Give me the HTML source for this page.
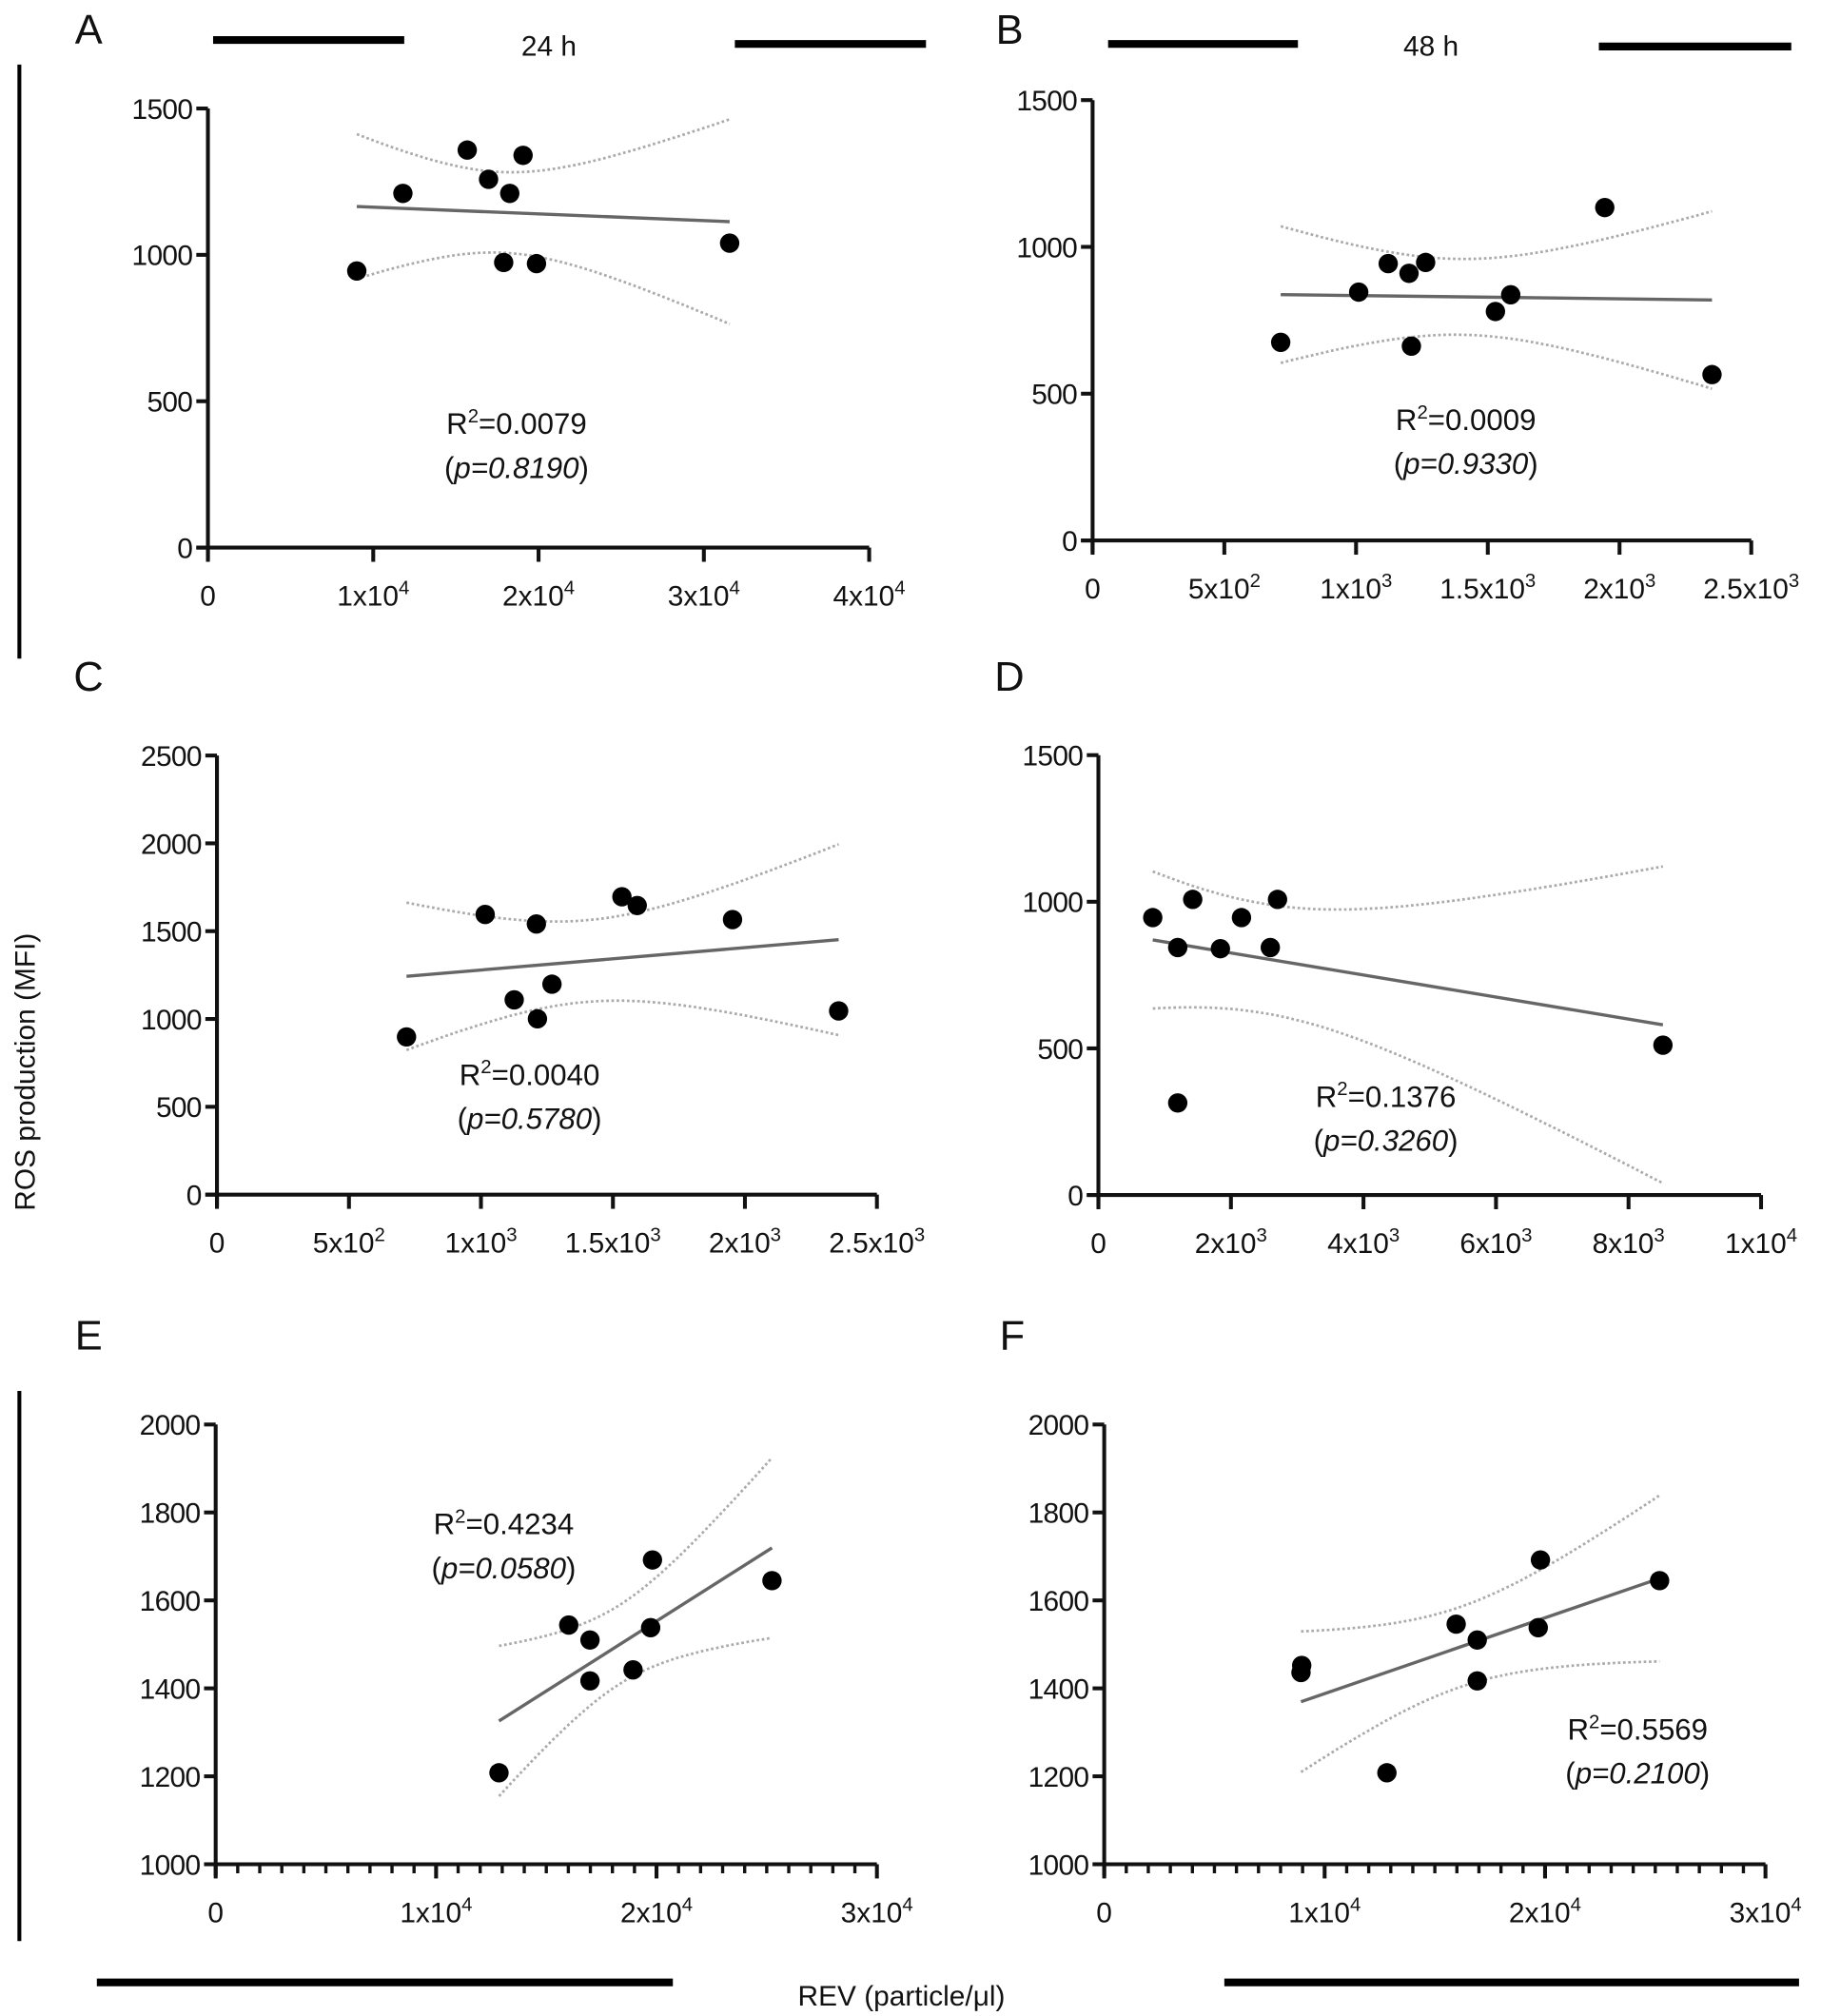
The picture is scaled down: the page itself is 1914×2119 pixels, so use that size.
<!DOCTYPE html>
<html><head><meta charset="utf-8"><style>
html,body{margin:0;padding:0;background:#fff}
svg{display:block}
text{font-family:"Liberation Sans",Arial,sans-serif;fill:#111}
</style></head><body>
<svg id="fig" width="1914" height="2119" viewBox="0 0 1410 1561" preserveAspectRatio="none" xmlns="http://www.w3.org/2000/svg">
<g>
<text x="58" y="34" font-size="32">A</text>
<text x="771" y="34" font-size="32">B</text>
<text x="57" y="535" font-size="32">C</text>
<text x="770" y="535" font-size="32">D</text>
<text x="58" y="1045" font-size="32">E</text>
<text x="774" y="1045" font-size="32">F</text>
<line x1="165" y1="31" x2="313" y2="31" stroke="#000" stroke-width="6"/>
<line x1="569" y1="34" x2="717" y2="34" stroke="#000" stroke-width="6"/>
<text x="425" y="43" font-size="22" text-anchor="middle">24 h</text>
<line x1="858" y1="34" x2="1005" y2="34" stroke="#000" stroke-width="6"/>
<line x1="1238" y1="36" x2="1387" y2="36" stroke="#000" stroke-width="6"/>
<text x="1108" y="43" font-size="22" text-anchor="middle">48 h</text>
<line x1="15" y1="50" x2="15" y2="510" stroke="#000" stroke-width="3"/>
<line x1="15" y1="1077" x2="15" y2="1503" stroke="#000" stroke-width="3"/>
<text transform="translate(27,830) rotate(-90)" font-size="22" text-anchor="middle">ROS production (MFI)</text>
<line x1="75" y1="1535" x2="521" y2="1535" stroke="#000" stroke-width="6"/>
<line x1="948" y1="1535" x2="1393" y2="1535" stroke="#000" stroke-width="6"/>
<text x="698" y="1553" font-size="22" text-anchor="middle">REV (particle/μl)</text>
</g>
</svg>
<script>
// Panel A data
const aX = [9004, 11794, 15686, 16976, 18258, 19063, 17891, 19875, 31559];
const aY = [945, 1210, 1358, 1258, 1210, 1340, 974, 970, 1040];
const aXTicks = [0, 10000, 20000, 30000, 40000];
const aXTickLabels = [["0",""],["1x10","4"],["2x10","4"],["3x10","4"],["4x10","4"]];
const aYTicks = [0, 500, 1000, 1500];
const aStats = ["0.0079", "0.8190"];
// Panel B data
const bX = [714, 1010, 1122, 1201, 1264, 1210, 1529, 1587, 1944, 2351];
const bY = [675, 846, 943, 910, 947, 662, 780, 837, 1134, 565];
const bXTicks = [0, 500, 1000, 1500, 2000, 2500];
const bXTickLabels = [["0",""],["5x10","2"],["1x10","3"],["1.5x10","3"],["2x10","3"],["2.5x10","3"]];
const bYTicks = [0, 500, 1000, 1500];
const bStats = ["0.0009", "0.9330"];
// Panel C data
const cX = [718, 1016, 1126, 1210, 1214, 1269, 1534, 1592, 1953, 2355];
const cY = [898, 1595, 1109, 1541, 1001, 1198, 1696, 1646, 1566, 1046];
const cXTicks = [0, 500, 1000, 1500, 2000, 2500];
const cXTickLabels = [["0",""],["5x10","2"],["1x10","3"],["1.5x10","3"],["2x10","3"],["2.5x10","3"]];
const cYTicks = [0, 500, 1000, 1500, 2000, 2500];
const cStats = ["0.0040", "0.5780"];
// Panel D data
const dX = [820, 1197, 1423, 1841, 2159, 2594, 2703, 1197, 8519];
const dY = [946, 844, 1008, 840, 946, 844, 1008, 314, 511];
const dXTicks = [0, 2000, 4000, 6000, 8000, 10000];
const dXTickLabels = [["0",""],["2x10","3"],["4x10","3"],["6x10","3"],["8x10","3"],["1x10","4"]];
const dYTicks = [0, 500, 1000, 1500];
const dStats = ["0.1376", "0.3260"];
// Panel E data
const eX = [12853, 16018, 16982, 16982, 18936, 19734, 19817, 25239];
const eY = [1208, 1544, 1510, 1417, 1442, 1538, 1692, 1645];
const eXTicks = [0, 10000, 20000, 30000];
const eXTickLabels = [["0",""],["1x10","4"],["2x10","4"],["3x10","4"]];
const eYTicks = [1000, 1200, 1400, 1600, 1800, 2000];
const eStats = ["0.4234", "0.0580"];
// Panel F data
const fX = [8927, 8960, 12825, 15968, 16924, 16924, 19690, 19791, 25197];
const fY = [1436, 1452, 1208, 1546, 1510, 1417, 1538, 1692, 1645];
const fXTicks = [0, 10000, 20000, 30000];
const fXTickLabels = [["0",""],["1x10","4"],["2x10","4"],["3x10","4"]];
const fYTicks = [1000, 1200, 1400, 1600, 1800, 2000];
const fStats = ["0.5569", "0.2100"];

const NS = "http://www.w3.org/2000/svg";
const svg = document.getElementById('fig');
function mk(tag, attrs, parent){const e=document.createElementNS(NS,tag);for(const k in attrs)e.setAttribute(k,attrs[k]);(parent||svg).appendChild(e);return e;}
const tTable={5:2.571,6:2.447,7:2.365,8:2.306,9:2.262,10:2.228};

function panel(id, g, xs, ys, xt, xtl, yt, stats, minor){
  const grp = mk('g',{});
  
  
  const xMin=xt[0], xMax=xt[xt.length-1], yMin=yt[0], yMax=yt[yt.length-1];
  const sx=v=>g.x0+(v-xMin)/(xMax-xMin)*(g.x1-g.x0);
  const sy=v=>g.y0-(v-yMin)/(yMax-yMin)*(g.y0-g.y1);
  const ya=mk('line',{x1:g.x0,y1:g.y1,x2:g.x0,y2:g.y0+9,stroke:'#111','stroke-width':3},grp);
  
  
  const xa=mk('line',{x1:g.x0-9,y1:g.y0,x2:g.x1,y2:g.y0,stroke:'#111','stroke-width':3},grp);
  
  
  yt.forEach(v=>{
    const y=sy(v);
    mk('line',{x1:g.x0-9,y1:y,x2:g.x0,y2:y,stroke:'#111','stroke-width':3},grp);
    const t=mk('text',{x:g.x0-12,y:y+8,'font-size':22,'text-anchor':'end','letter-spacing':'-0.5'},grp);
    t.textContent=v;
    
    
  });
  if(minor){
    for(let v=xMin; v<=xMax; v+=minor){
      const x=sx(v);
      mk('line',{x1:x,y1:g.y0,x2:x,y2:g.y0+7,stroke:'#111','stroke-width':2.5},grp);
    }
  }
  xt.forEach((v,i)=>{
    const x=sx(v);
    mk('line',{x1:x,y1:g.y0,x2:x,y2:g.y0+11,stroke:'#111','stroke-width':3},grp);
    const t=mk('text',{x:x,y:g.y0+45,'font-size':22,'text-anchor':'middle'},grp);
    
    
    const a=document.createElementNS(NS,'tspan');a.textContent=xtl[i][0];t.appendChild(a);
    if(xtl[i][1]){const b=document.createElementNS(NS,'tspan');b.setAttribute('dy','-9');b.setAttribute('font-size','15');b.textContent=xtl[i][1];t.appendChild(b);}
  });
  const n=xs.length, mx=xs.reduce((a,b)=>a+b)/n, my=ys.reduce((a,b)=>a+b)/n;
  let sxx=0,sxy=0;xs.forEach((x,i)=>{sxx+=(x-mx)**2;sxy+=(x-mx)*(ys[i]-my);});
  const b1=sxy/sxx,b0=my-b1*mx;
  let sse=0;xs.forEach((x,i)=>{sse+=(ys[i]-b0-b1*x)**2;});
  const s=Math.sqrt(sse/(n-2)), tv=tTable[n-2]||2.3;
  const lo=Math.min(...xs), hi=Math.max(...xs);
  let up='',dn='';
  for(let k=0;k<=60;k++){
    const x=lo+(hi-lo)*k/60, yh=b0+b1*x, h=tv*s*Math.sqrt(1/n+(x-mx)**2/sxx);
    up+=(k?'L':'M')+sx(x).toFixed(1)+','+sy(yh+h).toFixed(1);
    dn+=(k?'L':'M')+sx(x).toFixed(1)+','+sy(yh-h).toFixed(1);
  }
  const cu=mk('path',{d:up,fill:'none',stroke:'#aaa','stroke-width':2,'stroke-dasharray':'2,2'},grp);
  
  
  const cl=mk('path',{d:dn,fill:'none',stroke:'#aaa','stroke-width':2,'stroke-dasharray':'2,2'},grp);
  
  
  const rl=mk('line',{x1:sx(lo),y1:sy(b0+b1*lo),x2:sx(hi),y2:sy(b0+b1*hi),stroke:'#666','stroke-width':2.5},grp);
  
  
  xs.forEach((x,i)=>{
    const c=mk('circle',{cx:sx(x),cy:sy(ys[i]),r:7.5,fill:'#000'},grp);
    
    
  });
  const t1=mk('text',{x:g.sx,y:g.sy,'font-size':23,'text-anchor':'middle'},grp);
  
  
  t1.innerHTML='R<tspan dy="-9" font-size="15">2</tspan><tspan dy="9">='+stats[0]+'</tspan>';
  const t2=mk('text',{x:g.sx,y:g.sy+34,'font-size':23,'text-anchor':'middle'},grp);
  
  
  t2.innerHTML='(<tspan font-style="italic">p='+stats[1]+'</tspan>)';
}
panel('a',{x0:161,x1:673,y0:424,y1:84,sx:400,sy:336},aX,aY,aXTicks,aXTickLabels,aYTicks,aStats);
panel('b',{x0:846,x1:1356,y0:418.5,y1:77.5,sx:1135,sy:333},bX,bY,bXTicks,bXTickLabels,bYTicks,bStats);
panel('c',{x0:168,x1:679,y0:925,y1:585,sx:410,sy:840},cX,cY,cXTicks,cXTickLabels,cYTicks,cStats);
panel('d',{x0:850.5,x1:1363.6,y0:925.3,y1:584.7,sx:1073,sy:857},dX,dY,dXTicks,dXTickLabels,dYTicks,dStats);
panel('e',{x0:167,x1:679,y0:1443.5,y1:1103,sx:390,sy:1188},eX,eY,eXTicks,eXTickLabels,eYTicks,eStats,1000);
panel('f',{x0:855,x1:1367,y0:1443.5,y1:1103,sx:1268,sy:1347},fX,fY,fXTicks,fXTickLabels,fYTicks,fStats,1000);
</script>
</body></html>
